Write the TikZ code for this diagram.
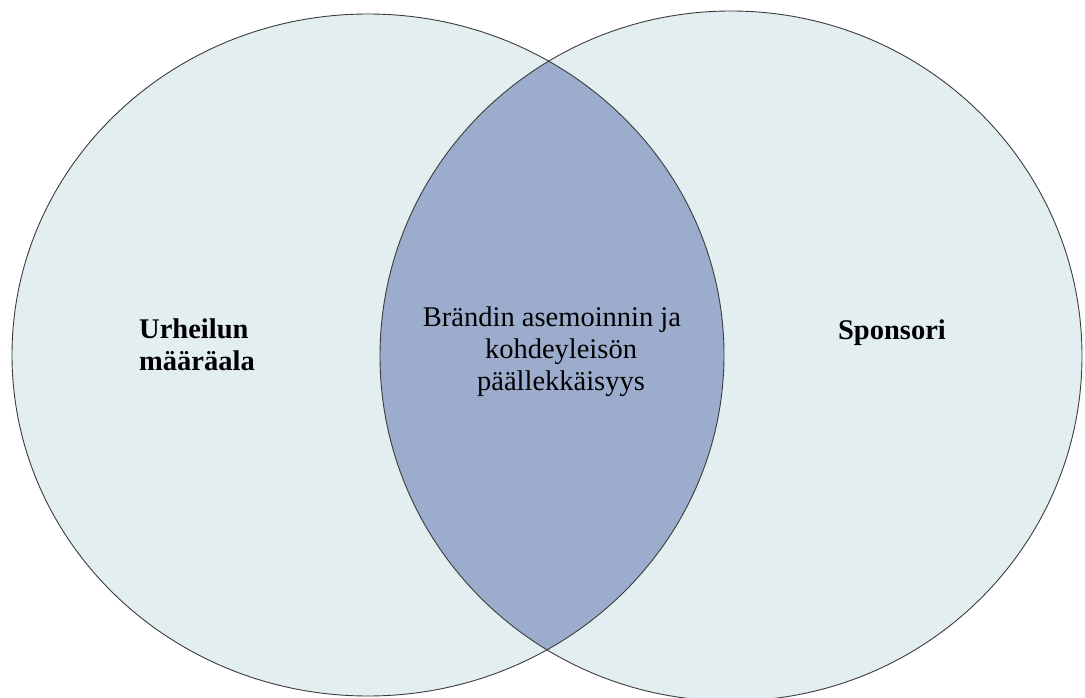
\documentclass[tikz,border=0pt]{standalone}
\usepackage{fontspec}
\setmainfont{Liberation Serif}
\definecolor{lightfill}{RGB}{226,238,240}
\definecolor{midfill}{RGB}{156,172,204}
\definecolor{edge}{RGB}{60,60,60}
\begin{document}
\begin{tikzpicture}[x=1pt,y=-1pt,
  setedge/.style={draw=edge,line width=0.9pt},
  lbl/.style={font=\bfseries\fontsize{28.5}{32}\selectfont,text=black,inner sep=0pt},
  midlbl/.style={font=\fontsize{28.5}{32}\selectfont,text=black,align=center,inner sep=0pt}]
\useasboundingbox (0,0) rectangle (1085,698);
\fill[lightfill] (368,355) ellipse [x radius=356, y radius=341];
\fill[lightfill] (731,356) ellipse [x radius=351, y radius=345];
\begin{scope}
  \clip (368,355) ellipse [x radius=356, y radius=341];
  \fill[midfill] (731,356) ellipse [x radius=351, y radius=345];
\end{scope}
\draw[setedge] (368,355) ellipse [x radius=356, y radius=341];
\draw[setedge] (731,356) ellipse [x radius=351, y radius=345];
\node[lbl,anchor=west,align=left] (left) at (139,345) {Urheilun\\määräala};
\node[lbl,anchor=base] (right) at (892,339) {Sponsori};
\node[midlbl] (mid) at (561,352) {Brändin asemoinnin ja\hspace*{18pt}\\kohdeyleisön\\päällekkäisyys};
\end{tikzpicture}
\end{document}
